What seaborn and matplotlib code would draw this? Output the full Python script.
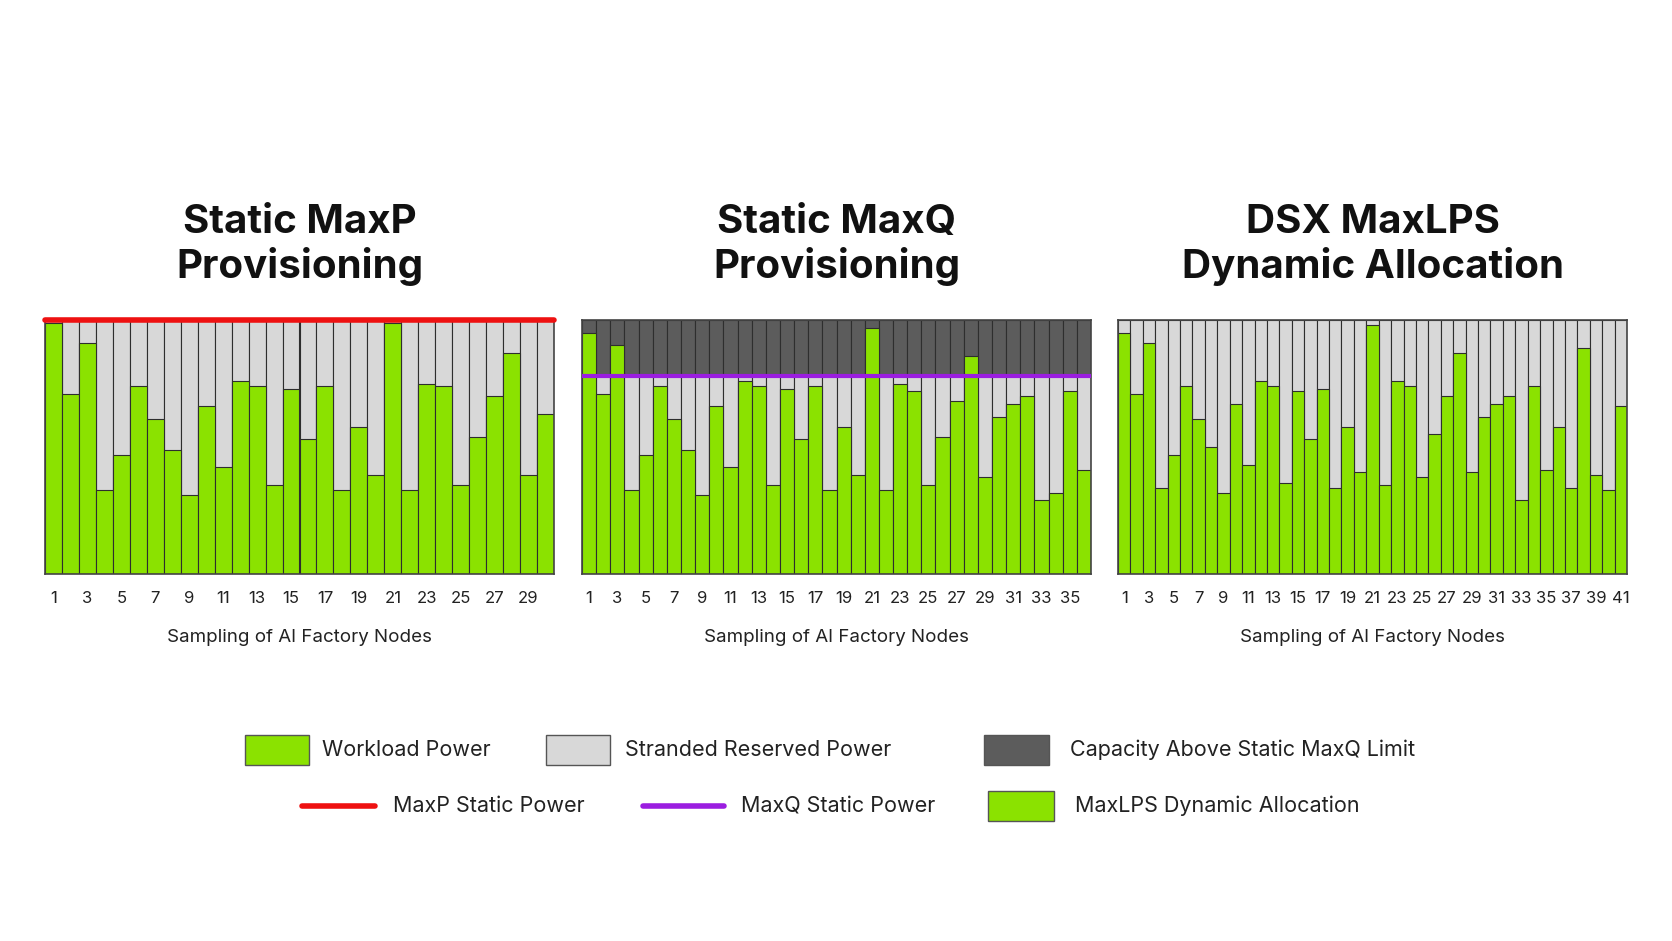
import matplotlib
matplotlib.use("Agg")
import matplotlib.pyplot as plt
from matplotlib.patches import Rectangle
from matplotlib.lines import Line2D
import seaborn as sns
import pandas as pd
import numpy as np

sns.set_theme(style="white")
plt.rcParams['font.family'] = ['Inter', 'DejaVu Sans']

maxp_workload = [99, 71, 91, 33, 47, 74, 61, 49, 31, 66, 42, 76, 74, 35, 73, 53, 74, 33, 58, 39,
                 99, 33, 75, 74, 35, 54, 70, 87, 39, 63]
maxq_workload = [95, 71, 90, 33, 47, 74, 61, 49, 31, 66, 42, 76, 74, 35, 73, 53, 74, 33, 58, 39,
                 97, 33, 75, 72, 35, 54, 68, 86, 38, 62, 67, 70, 29, 32, 72, 41]
maxlps_workload = [95, 71, 91, 34, 47, 74, 61, 50, 32, 67, 43, 76, 74, 36, 72, 53, 73, 34, 58, 40,
                   98, 35, 76, 74, 38, 55, 70, 87, 40, 62, 67, 70, 29, 74, 41, 58, 34, 89, 39, 33, 66]
maxp_limit = 100
maxq_limit = 78
full_capacity = 100

titles = ["Static MaxP\nProvisioning", "Static MaxQ\nProvisioning", "DSX MaxLPS\nDynamic Allocation"]
xlabel = "Sampling of AI Factory Nodes"

GREEN = "#8be200"
GREY = "#d8d8d8"
DARK = "#5c5c5c"
EDGE = "#2e2e2e"

W, H = 1672, 941
fig = plt.figure(figsize=(W / 100, H / 100), dpi=100)
fig.patch.set_facecolor("white")

lefts = [45, 582, 1118]
axw, axb, axt = 509, 574, 320


def bars(ax, vals, color):
    df = pd.DataFrame({"node": np.arange(1, len(vals) + 1), "v": vals})
    sns.barplot(data=df, x="node", y="v", color=color, width=1.0, edgecolor=EDGE,
                linewidth=0.8, saturation=1, ax=ax, order=list(df["node"]))


datasets = [maxp_workload, maxq_workload, maxlps_workload]
for i, vals in enumerate(datasets):
    ax = fig.add_axes([lefts[i] / W, 1 - axb / H, axw / W, (axb - axt) / H])
    n = len(vals)
    if i == 1:
        bars(ax, [full_capacity] * n, DARK)
        bars(ax, [maxq_limit] * n, GREY)
        bars(ax, vals, GREEN)
        ax.axhline(maxq_limit, color="#9b1de0", lw=3, zorder=5)
    else:
        bars(ax, [full_capacity] * n, GREY)
        bars(ax, vals, GREEN)
    if i == 0:
        ax.axhline(maxp_limit, color="#ee1111", lw=4, zorder=5, clip_on=False)
    ax.set_ylim(0, 100)
    ax.set_xlim(-0.5, n - 0.5)
    ax.set_yticks([])
    ticks = list(range(0, n, 2))
    ax.set_xticks(ticks)
    ax.set_xticklabels([str(t + 1) for t in ticks], fontsize=12, color="#222")
    ax.tick_params(axis="x", length=0, pad=12)
    ax.set_xlabel(xlabel, fontsize=13.5, color="#222", labelpad=17)
    ax.set_ylabel("")
    for s in ax.spines.values():
        s.set_color("#444")
        s.set_linewidth(1.2)
    ax.set_title(titles[i], fontsize=29, fontweight="bold", color="#111", pad=30,
                 linespacing=1.2)

# Legend
def patch(x, y, w, h, c):
    fig.add_artist(Rectangle((x / W, 1 - (y + h / 2) / H), w / W, h / H,
                             transform=fig.transFigure, facecolor=c, edgecolor="#555", lw=1))

def line(x0, x1, y, c):
    fig.add_artist(Line2D([x0 / W, x1 / W], [1 - y / H, 1 - y / H], transform=fig.transFigure,
                          color=c, lw=4))

def txt(x, y, s):
    fig.text(x / W, 1 - y / H, s, fontsize=15.5, va="center", ha="left", color="#222")

r1, r2 = 750, 806
patch(245, r1, 64, 30, GREEN); txt(322, r1, "Workload Power")
patch(546, r1, 64, 30, GREY); txt(625, r1, "Stranded Reserved Power")
patch(984, r1, 65, 30, DARK); txt(1070, r1, "Capacity Above Static MaxQ Limit")
line(302, 375, r2, "#ee1111"); txt(393, r2, "MaxP Static Power")
line(643, 724, r2, "#9b1de0"); txt(741, r2, "MaxQ Static Power")
patch(988, r2, 66, 30, GREEN); txt(1075, r2, "MaxLPS Dynamic Allocation")

fig.savefig("out.png", dpi=100, facecolor="white")
